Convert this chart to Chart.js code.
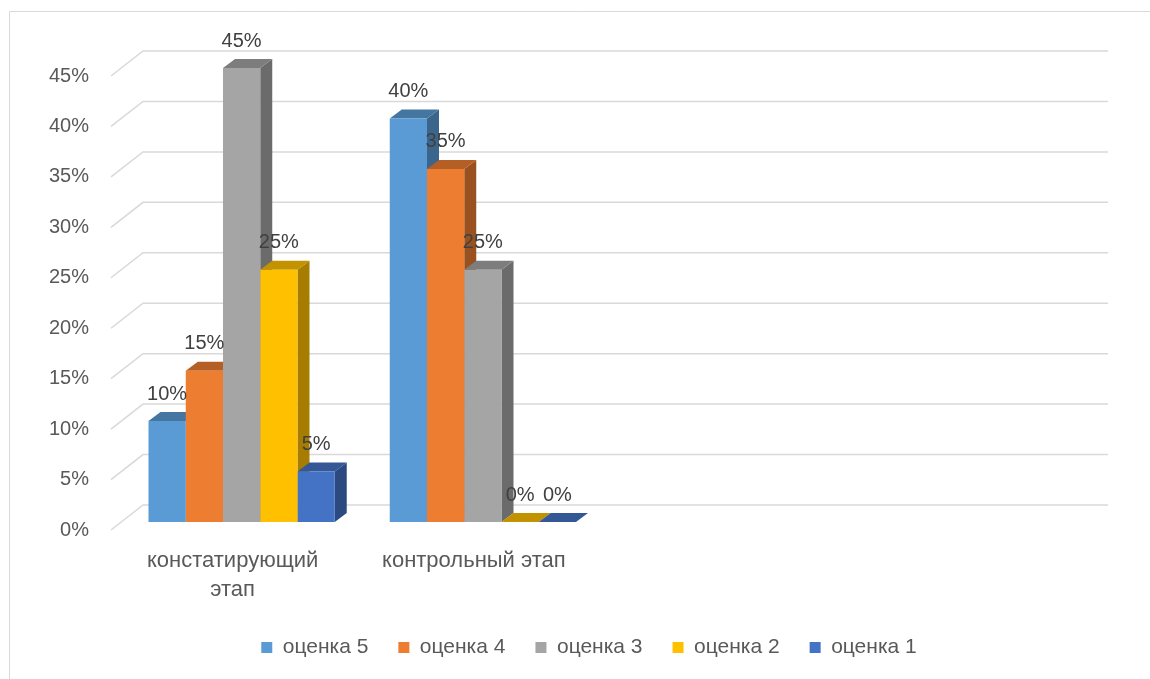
<!DOCTYPE html>
<html>
<head>
<meta charset="utf-8">
<script src="https://cdn.jsdelivr.net/npm/chart.js@4.4.0/dist/chart.umd.min.js"></script>
<style>
  html, body { margin: 0; padding: 0; background: #fff; }
  #wrap { width: 1150px; height: 679px; position: relative; }
</style>
</head>
<body>
<div id="wrap"><canvas id="grades-chart"></canvas></div>
<script>
// Stages (the two trailing slots are empty, as in the original sheet)
const categories = [['констатирующий', 'этап'], 'контрольный этап', '', ''];

// Share of pupils per grade, %
const grade5 = [10, 40, null, null];
const grade4 = [15, 35, null, null];
const grade3 = [45, 25, null, null];
const grade2 = [25, 0, null, null];
const grade1 = [5, 0, null, null];

const seriesNames = ['оценка 5', 'оценка 4', 'оценка 3', 'оценка 2', 'оценка 1'];
const seriesColors = ['#5B9BD5', '#ED7D31', '#A5A5A5', '#FFC000', '#4472C4'];

// y axis: 0% .. 45% every 5%
const yMin = 0;
const yMax = 45;
const yStep = 5;

const FONT = '"Liberation Sans", Arial, sans-serif';
const TEXT_COLOR = '#595959';

// fake 3D offsets (pixels)
const barDepth = { dx: 12, dy: -9 };
const wallFront = { dx: -10, dy: 8 };
const wallBack = { dx: 22, dy: -17 };

function shade(hex, k) {
    const n = parseInt(hex.slice(1), 16);
    const r = Math.round(((n >> 16) & 255) * k);
    const g = Math.round(((n >> 8) & 255) * k);
    const b = Math.round((n & 255) * k);
    return `rgb(${r},${g},${b})`;
}

function poly(ctx, pts, fill) {
    ctx.beginPath();
    ctx.moveTo(pts[0][0], pts[0][1]);
    for (let i = 1; i < pts.length; i++) ctx.lineTo(pts[i][0], pts[i][1]);
    ctx.closePath();
    ctx.fillStyle = fill;
    ctx.fill();
}

// frame, back wall grid and the top/side faces of bars
const depthPlugin = {
    id: 'depth',
    beforeDraw(chart) {
        const ctx = chart.ctx;
        ctx.save();
        ctx.fillStyle = '#fff';
        ctx.fillRect(0, 0, chart.width, chart.height);
        ctx.strokeStyle = '#d9d9d9';
        ctx.lineWidth = 1;
        ctx.beginPath();
        ctx.moveTo(9.5, chart.height);
        ctx.lineTo(9.5, 11.5);
        ctx.lineTo(chart.width, 11.5);
        ctx.stroke();
        ctx.restore();
    },
    beforeDatasetsDraw(chart) {
        const { ctx, chartArea, scales: { y } } = chart;
        ctx.save();

        ctx.strokeStyle = '#d9d9d9';
        ctx.lineWidth = 1.5;
        y.ticks.forEach(t => {
            const py = y.getPixelForValue(t.value);
            ctx.beginPath();
            ctx.moveTo(chartArea.left + wallFront.dx, py + wallFront.dy);
            ctx.lineTo(chartArea.left + wallBack.dx, py + wallBack.dy);
            ctx.lineTo(chartArea.right + wallBack.dx, py + wallBack.dy);
            ctx.stroke();
        });

        // left to right so nearer faces cover the ones behind
        const { dx, dy } = barDepth;
        categories.forEach((c, i) => {
            chart.data.datasets.forEach((ds, d) => {
                if (ds.data[i] === null) return;
                const el = chart.getDatasetMeta(d).data[i];
                const x0 = el.x - el.width / 2;
                const x1 = el.x + el.width / 2;
                const yt = el.y;
                const yb = el.base;
                poly(ctx, [[x1, yt], [x1 + dx, yt + dy], [x1 + dx, yb + dy], [x1, yb]], shade(seriesColors[d], 0.65));
                poly(ctx, [[x0, yt], [x0 + dx, yt + dy], [x1 + dx, yt + dy], [x1, yt]], shade(seriesColors[d], 0.76));
            });
        });
        ctx.restore();
    },
    afterDatasetsDraw(chart) {
        const ctx = chart.ctx;
        ctx.save();
        ctx.font = `20px ${FONT}`;
        ctx.fillStyle = '#404040';
        ctx.textAlign = 'center';
        ctx.textBaseline = 'middle';
        chart.data.datasets.forEach((ds, d) => {
            chart.getDatasetMeta(d).data.forEach((el, i) => {
                const v = ds.data[i];
                if (v === null) return;
                ctx.fillText(v + '%', el.x, el.y - 27);
            });
        });
        ctx.restore();
    }
};

const seriesValues = [grade5, grade4, grade3, grade2, grade1];

new Chart(document.getElementById('grades-chart'), {
    type: 'bar',
    data: {
        labels: categories,
        datasets: seriesValues.map((vals, d) => ({
            label: seriesNames[d],
            data: vals,
            backgroundColor: seriesColors[d],
            borderWidth: 0,
            barPercentage: 1,
            categoryPercentage: 0.772
        }))
    },
    options: {
        responsive: true,
        maintainAspectRatio: false,
        animation: false,
        layout: {
            padding: { left: 28, right: 0, top: 68, bottom: 11 }
        },
        plugins: {
            tooltip: { enabled: false },
            legend: {
                position: 'bottom',
                labels: {
                    boxWidth: 11,
                    boxHeight: 11,
                    padding: 30,
                    color: TEXT_COLOR,
                    font: { family: FONT, size: 21 }
                }
            }
        },
        scales: {
            x: {
                grid: { display: false, drawTicks: false },
                border: { display: false },
                ticks: {
                    color: TEXT_COLOR,
                    font: { family: FONT, size: 22, lineHeight: 1.32 },
                    padding: 24,
                    labelOffset: -9,
                    maxRotation: 0,
                    autoSkip: false
                },
                afterFit(scale) { scale.height = 85; }
            },
            y: {
                min: yMin,
                max: yMax,
                grid: { display: false, drawTicks: false },
                border: { display: false },
                ticks: {
                    stepSize: yStep,
                    color: TEXT_COLOR,
                    font: { family: FONT, size: 20 },
                    padding: 32,
                    labelOffset: 8,
                    callback: v => v + '%'
                },
                afterFit(scale) { scale.width = 93; }
            },
            // empty strip on the right, leaves room for the back wall
            yRight: {
                position: 'right',
                grid: { display: false, drawTicks: false },
                border: { display: false },
                ticks: { display: false },
                afterFit(scale) { scale.width = 64; }
            }
        }
    },
    plugins: [depthPlugin]
});
</script>
</body>
</html>
